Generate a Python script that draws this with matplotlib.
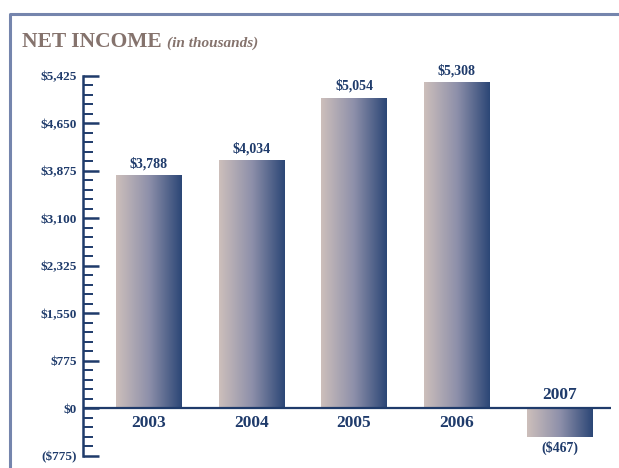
import numpy as np
import matplotlib.pyplot as plt
from matplotlib.colors import LinearSegmentedColormap
from matplotlib.lines import Line2D
from matplotlib.ticker import MultipleLocator, FuncFormatter

# 数据
years = ['2003', '2004', '2005', '2006', '2007']
net_income = [3788, 4034, 5054, 5308, -467]
value_labels = ['$3,788', '$4,034', '$5,054', '$5,308', '($467)']

navy = '#1f3b6b'
frame_color = '#7585ad'
title_color = '#85736d'
serif = ['Liberation Serif', 'DejaVu Serif']

plt.rcParams['font.family'] = serif

fig = plt.figure(figsize=(6.19, 4.68), dpi=100)
W, H = 619, 468

# 外框 (左边和上边)
fig.add_artist(Line2D([10 / W, 10 / W, 1.0], [0.0, 1 - 14 / H, 1 - 14 / H],
                      transform=fig.transFigure, color=frame_color, lw=2.2))

t1 = fig.text(22 / W, 1 - 47 / H, 'NET INCOME', color=title_color, fontsize=15.5,
              fontweight='bold', va='baseline', ha='left')
fig.canvas.draw()
x_end = t1.get_window_extent().x1
fig.text((x_end + 5) / W, 1 - 47 / H, '(in thousands)', color=title_color, fontsize=11,
         fontweight='bold', style='italic', va='baseline', ha='left')

ax = fig.add_axes([83 / W, (H - 455.7) / H, 528 / W, 380 / H])
ax.set_facecolor('none')

cmap = LinearSegmentedColormap.from_list('bar', ['#cdbfbb', '#8e90aa', '#2b4676'])
grad = np.linspace(0, 1, 256).reshape(1, -1)
bar_w = 0.633

for i, (yr, v, lab) in enumerate(zip(years, net_income, value_labels)):
    lo, hi = min(0, v), max(0, v)
    ax.imshow(grad, cmap=cmap, aspect='auto', extent=(i - bar_w / 2, i + bar_w / 2, lo, hi),
              zorder=2, interpolation='bicubic')
    if v >= 0:
        ax.annotate(lab, (i, v), xytext=(0, 4), textcoords='offset points',
                    ha='center', va='bottom', fontsize=10, fontweight='bold', color=navy)
        ax.annotate(yr, (i, 0), xytext=(0, -5), textcoords='offset points',
                    ha='center', va='top', fontsize=12.5, fontweight='bold', color=navy)
    else:
        ax.annotate(lab, (i, v), xytext=(0, -3), textcoords='offset points',
                    ha='center', va='top', fontsize=10, fontweight='bold', color=navy)
        ax.annotate(yr, (i, 0), xytext=(0, 4), textcoords='offset points',
                    ha='center', va='bottom', fontsize=12.5, fontweight='bold', color=navy)

ax.axhline(0, color=navy, lw=1.6, zorder=3)

ax.set_xlim(-0.6375, 4.501)
ax.set_ylim(-775, 5425)

for s in ['top', 'right', 'bottom']:
    ax.spines[s].set_visible(False)
ax.spines['left'].set_color(navy)
ax.spines['left'].set_linewidth(1.8)

ax.set_xticks([])
ax.yaxis.set_major_locator(MultipleLocator(775))
ax.yaxis.set_minor_locator(MultipleLocator(155))


def money(v, pos):
    if v < 0:
        return '(${:,.0f})'.format(-v)
    return '${:,.0f}'.format(v)


ax.yaxis.set_major_formatter(FuncFormatter(money))
ax.tick_params(axis='y', which='major', direction='in', length=11.5, width=1.8,
               color=navy, labelcolor=navy, labelsize=9.5, pad=4.5)
ax.tick_params(axis='y', which='minor', direction='in', length=7.5, width=1.4, color=navy)
for t in ax.get_yticklabels():
    t.set_fontweight('bold')

fig.savefig('out.png', dpi=100)
